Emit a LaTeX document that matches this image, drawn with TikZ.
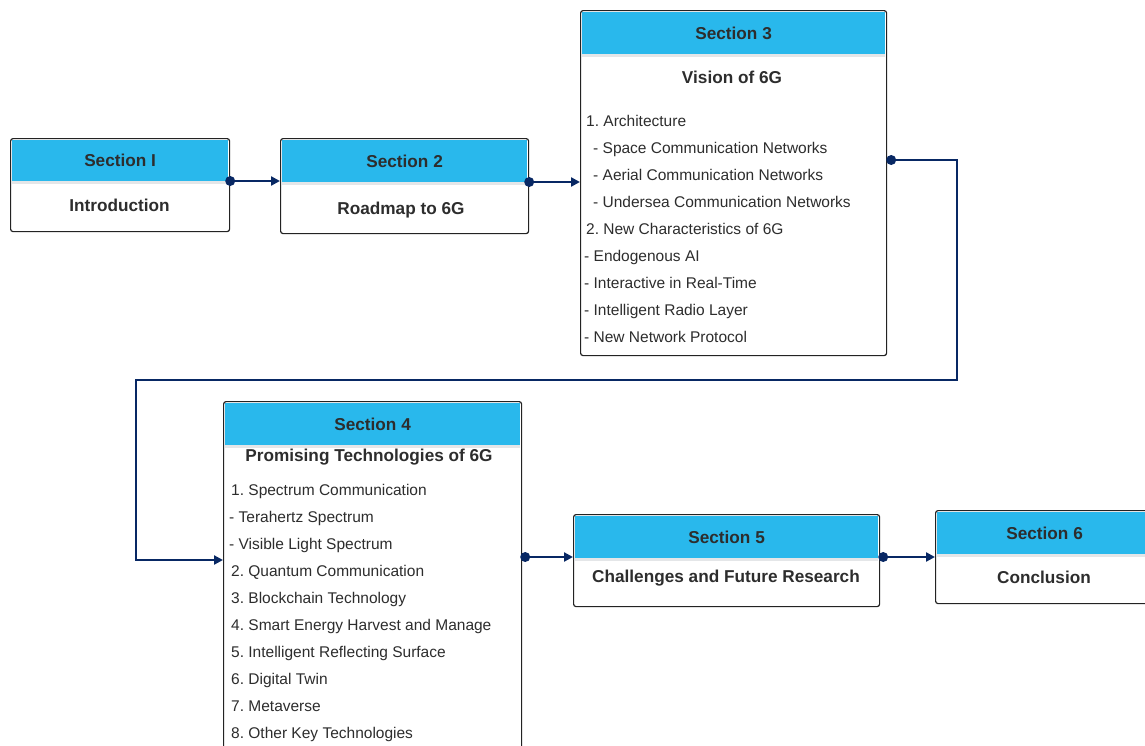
\documentclass[tikz,border=0pt]{standalone}
\usepackage{fontspec}
\setmainfont{Liberation Sans}
\usetikzlibrary{calc,arrows.meta}
\frenchspacing

\definecolor{hdrcyan}{RGB}{41,184,236}
\definecolor{hdrshade}{RGB}{228,230,232}
\definecolor{navy}{RGB}{8,40,100}
\definecolor{txtgray}{RGB}{45,45,45}
\definecolor{edgegray}{RGB}{35,35,35}

\tikzset{
  secbox/.style={draw=edgegray, line width=1.2pt, rounded corners=2.5pt,
    fill=white, inner sep=0pt, anchor=north west},
  hdr/.style={fill=hdrcyan, inner sep=0pt, anchor=north, text=txtgray,
    font=\fontsize{17.2}{20}\selectfont\bfseries},
  title/.style={inner sep=0pt, text=txtgray,
    font=\fontsize{17.2}{20}\selectfont\bfseries},
  item/.style={inner sep=0pt, anchor=base west, text=txtgray,
    font=\fontsize{15.5}{18}\selectfont},
  conn/.style={draw=navy, line width=2.3pt,
    -{Triangle[length=9pt,width=9pt]}},
  dot/.style={fill=navy},
}

\begin{document}
\begin{tikzpicture}[x=1pt,y=-1pt]
\useasboundingbox (0,0) rectangle (1145,745);

% ---------- Section 1 ----------
\node[secbox, minimum width=219pt, minimum height=93pt] (s1) at (10,138) {};
\node[hdr, minimum width=216pt, minimum height=41pt] (h1) at ($(s1.north)+(0,2)$) {Section I};
\fill[hdrshade] (h1.south west) rectangle ($(h1.south east)+(0,3)$);
\node[title] (t1) at (119.5,205) {Introduction};

% ---------- Section 2 ----------
\node[secbox, minimum width=248pt, minimum height=95pt] (s2) at (280,138) {};
\node[hdr, minimum width=245pt, minimum height=42pt] (h2) at ($(s2.north)+(0,2)$) {Section 2};
\fill[hdrshade] (h2.south west) rectangle ($(h2.south east)+(0,3)$);
\node[title] (t2) at (401,210) {Roadmap to 6G};

% ---------- Section 3 ----------
\node[secbox, minimum width=306pt, minimum height=345pt] (s3) at (580,10) {};
\node[hdr, minimum width=303pt, minimum height=42pt] (h3) at ($(s3.north)+(0,2)$) {Section 3};
\fill[hdrshade] (h3.south west) rectangle ($(h3.south east)+(0,3)$);
\node[title] (t3) at (732,77) {Vision of 6G};
\node[item] (a1) at (586,126.5) {1. Architecture};
\node[item] (a2) at (593,153.5) {- Space Communication Networks};
\node[item] (a3) at (593,180.5) {- Aerial Communication Networks};
\node[item] (a4) at (593,207.5) {- Undersea Communication Networks};
\node[item] (a5) at (586,234.5) {2. New Characteristics of 6G};
\node[item] (a6) at (584,261.5) {- Endogenous AI};
\node[item] (a7) at (584,288.5) {- Interactive in Real-Time};
\node[item] (a8) at (584,315.5) {- Intelligent Radio Layer};
\node[item] (a9) at (584,342.5) {- New Network Protocol};

% ---------- Section 4 ----------
\node[secbox, minimum width=298pt, minimum height=360pt] (s4) at (223,401) {};
\node[hdr, minimum width=295pt, minimum height=42pt] (h4) at ($(s4.north)+(0,2)$) {Section 4};
\fill[hdrshade] (h4.south west) rectangle ($(h4.south east)+(0,3)$);
\node[title] (t4) at (369,457) {Promising Technologies of 6G};
\node[item] (b1) at (231,495.5) {1. Spectrum Communication};
\node[item] (b2) at (229,522.5) {- Terahertz Spectrum};
\node[item] (b3) at (229,549.5) {- Visible Light Spectrum};
\node[item] (b4) at (231,576.5) {2. Quantum Communication};
\node[item] (b5) at (231,603.5) {3. Blockchain Technology};
\node[item] (b6) at (231,630.5) {4. Smart Energy Harvest and Manage};
\node[item] (b7) at (231,657.5) {5. Intelligent Reflecting Surface};
\node[item] (b8) at (231,684.5) {6. Digital Twin};
\node[item] (b9) at (231,711.5) {7. Metaverse};
\node[item] (b10) at (231,738.5) {8. Other Key Technologies};

% ---------- Section 5 ----------
\node[secbox, minimum width=306pt, minimum height=92pt] (s5) at (573,514) {};
\node[hdr, minimum width=303pt, minimum height=42pt] (h5) at ($(s5.north)+(0,2)$) {Section 5};
\fill[hdrshade] (h5.south west) rectangle ($(h5.south east)+(0,3)$);
\node[title] (t5) at (726,578) {Challenges and Future Research};

% ---------- Section 6 ----------
\node[secbox, minimum width=218pt, minimum height=93pt] (s6) at (935,510) {};
\node[hdr, minimum width=215pt, minimum height=42pt] (h6) at ($(s6.north)+(0,2)$) {Section 6};
\fill[hdrshade] (h6.south west) rectangle ($(h6.south east)+(0,3)$);
\node[title] (t6) at (1044,577) {Conclusion};

% ---------- Connectors ----------
\coordinate (c1) at (s1.east |- 0,181);
\draw[conn] (c1) -- (s2.west |- c1);
\fill[dot] (c1) circle (5pt);

\coordinate (c2) at (s2.east |- 0,182);
\draw[conn] (c2) -- (s3.west |- c2);
\fill[dot] (c2) circle (5pt);

\coordinate (c3) at ($(s3.east |- 0,160)+(4,0)$);
\coordinate (r3) at (957,160);
\coordinate (l3) at (136,380);
\draw[conn] (c3) -- (r3) |- (l3) |- (s4.west |- 0,560);
\fill[dot] (c3) circle (5pt);

\coordinate (c4) at ($(s4.east |- 0,557)+(3,0)$);
\draw[conn] (c4) -- (s5.west |- c4);
\fill[dot] (c4) circle (5pt);

\coordinate (c5) at ($(s5.east |- 0,557)+(3,0)$);
\draw[conn] (c5) -- (s6.west |- c5);
\fill[dot] (c5) circle (5pt);
\end{tikzpicture}
\end{document}
